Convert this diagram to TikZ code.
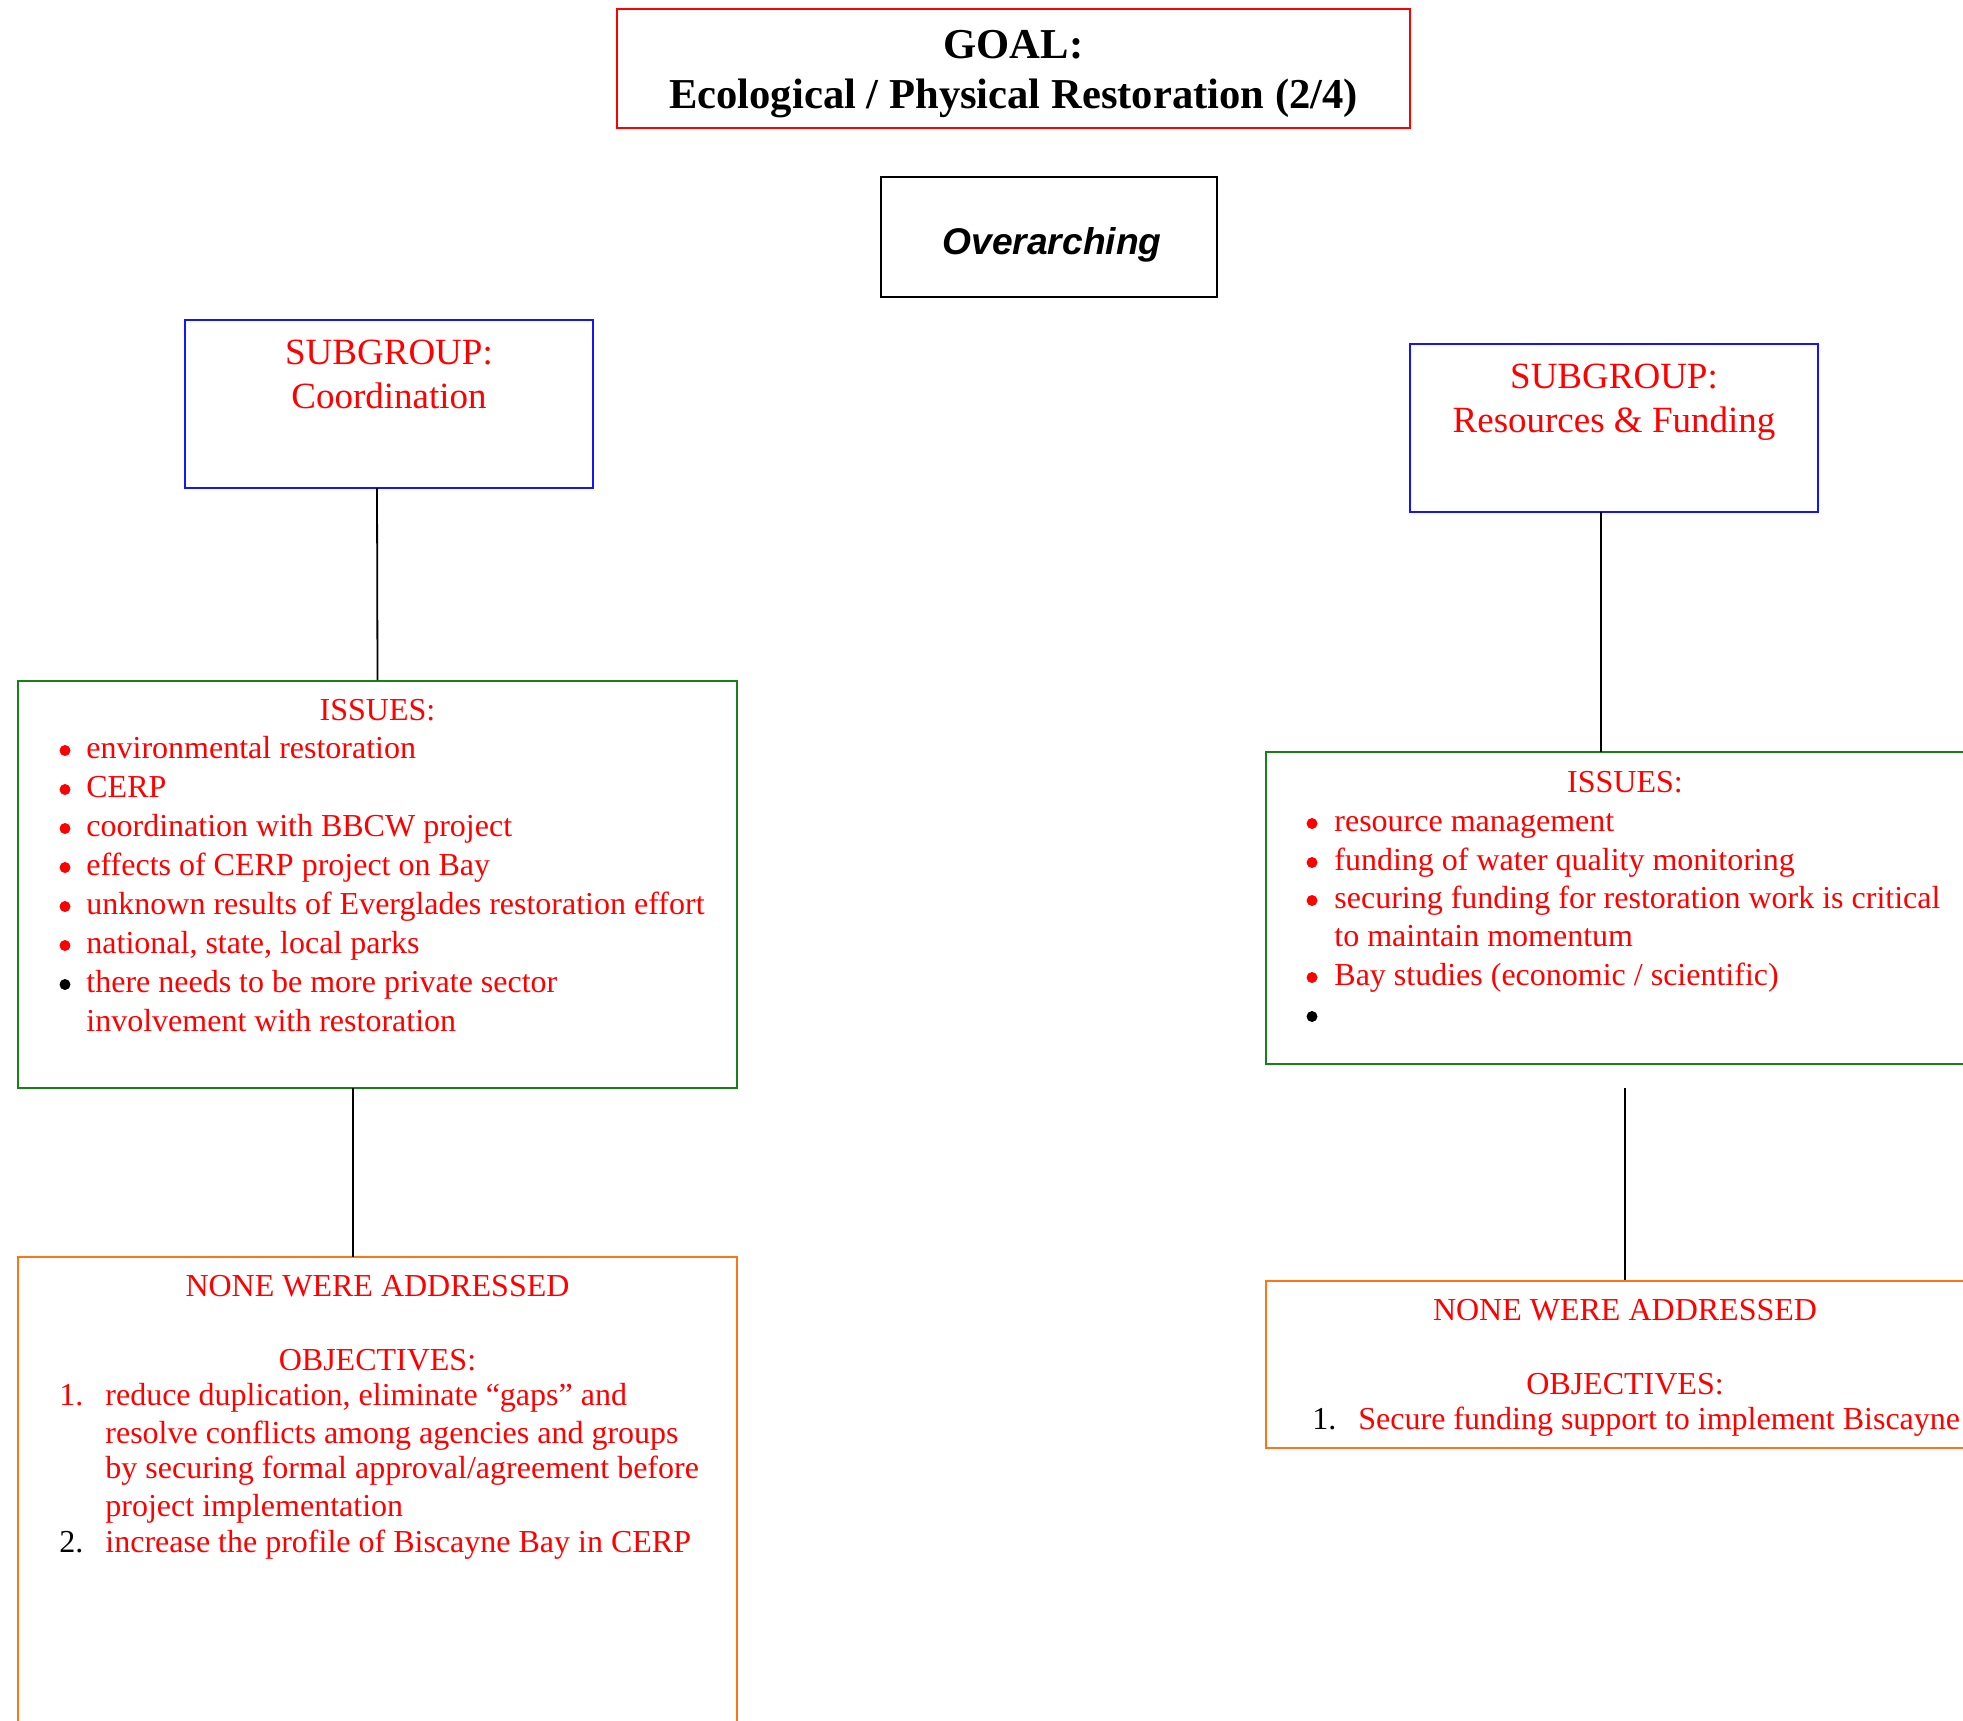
\documentclass[tikz,border=0pt]{standalone}
\usepackage{fontspec}
\setmainfont{Liberation Serif}
\newfontfamily\arialfont{Liberation Sans}
\definecolor{ttred}{RGB}{255,0,0}
\definecolor{ttblue}{RGB}{20,20,255}
\definecolor{ttgreen}{RGB}{20,130,20}
\definecolor{ttorange}{RGB}{255,115,25}
\tikzset{
  box/.style={draw, line width=1pt, inner sep=0pt},
  conn/.style={draw=black, line width=0.9pt},
  body/.style={inner sep=0pt, text=ttred, font=\fontsize{16}{19.5}\selectfont},
  bodyw/.style={body, anchor=base west},
  bodyc/.style={body, anchor=base},
  dot/.style={circle, fill=ttred, inner sep=0pt, minimum size=5.5pt},
  titletxt/.style={inner sep=0pt, anchor=base, font=\fontsize{21.3}{25}\selectfont\bfseries},
  subtxt/.style={inner sep=0pt, anchor=base, text=ttred, font=\fontsize{18.5}{22}\selectfont},
}
\begin{document}
\begin{tikzpicture}[x=0.5pt,y=-0.5pt]
\useasboundingbox (0,0) rectangle (1963,1720);
\clip (0,0) rectangle (1963,1720);

% ---- boxes ----
\node[box, draw=ttred, minimum width=396.5pt, minimum height=59.5pt] (goal) at (1013.5,68.5) {};
\node[box, draw=black, minimum width=168pt, minimum height=60pt] (over) at (1049,237) {};
\node[box, draw=ttblue, minimum width=204pt, minimum height=84pt] (sub1) at (389,404) {};
\node[box, draw=ttblue, minimum width=204pt, minimum height=84pt] (sub2) at (1614,428) {};
\node[box, draw=ttgreen, minimum width=359.5pt, minimum height=203.5pt] (iss1) at (377.5,884.5) {};
\node[box, draw=ttorange, minimum width=359.5pt, minimum height=241.5pt] (obj1) at (377.5,1498.5) {};
\node[box, draw=ttgreen, minimum width=359pt, minimum height=156pt] (iss2) at (1625,908) {};
\node[box, draw=ttorange, minimum width=359pt, minimum height=83.5pt] (obj2) at (1625,1364.5) {};

% ---- connectors ----
\coordinate (c1a) at (377,488);
\coordinate (c2a) at (353,1088);
\coordinate (c2b) at (353,1257);
\coordinate (c3a) at (1601,512);
\coordinate (c3b) at (1601,752);
\coordinate (c4a) at (1625,1088);
\draw[conn] (c1a) -- (iss1.north);
\draw[conn] (c2a) -- (c2b);
\draw[conn] (c3a) -- (c3b);
\draw[conn] (c4a) -- (obj2.north);

% ---- title ----
\node[titletxt] (g1) at (1013.5,58) {GOAL:};
\node[titletxt] (g2) at (1013.5,108) {Ecological / Physical Restoration (2/4)};
\node[inner sep=0pt, anchor=base, font=\arialfont\bfseries\itshape\fontsize{18.6}{22}\selectfont] (ov) at (1052,254) {Overarching};

% ---- subgroups ----
\node[subtxt] (s1a) at (389,364) {SUBGROUP:};
\node[subtxt] (s1b) at (389,408) {Coordination};
\node[subtxt] (s2a) at (1614,388) {SUBGROUP:};
\node[subtxt] (s2b) at (1614,432) {Resources \& Funding};

% ---- left issues ----
\node[bodyc] (li0) at (377.5,720) {ISSUES:};
\node[dot] (lb1) at (65,750.5) {};  \node[bodyw] (li1) at (86,758) {environmental restoration};
\node[dot] (lb2) at (65,789.5) {};  \node[bodyw] (li2) at (86,797) {CERP};
\node[dot] (lb3) at (65,828.5) {};  \node[bodyw] (li3) at (86,836) {coordination with BBCW project};
\node[dot] (lb4) at (65,867.5) {};  \node[bodyw] (li4) at (86,875) {effects of CERP project on Bay};
\node[dot] (lb5) at (65,906.5) {};  \node[bodyw] (li5) at (86,914) {unknown results of Everglades restoration effort};
\node[dot] (lb6) at (65,945.5) {};  \node[bodyw] (li6) at (86,953) {national, state, local parks};
\node[dot, fill=black] (lb7) at (65,984.5) {};  \node[bodyw] (li7) at (86,992) {there needs to be more private sector};
\node[bodyw] (li8) at (86,1031) {involvement with restoration};

% ---- left objectives ----
\node[bodyc] (lo0) at (377.5,1296) {NONE WERE ADDRESSED};
\node[bodyc] (lo1) at (377.5,1370) {OBJECTIVES:};
\node[bodyw] (ln1) at (59,1405) {1.};
\node[bodyw] (lo2) at (105,1405) {reduce duplication, eliminate “gaps” and};
\node[bodyw] (lo3) at (105,1443) {resolve conflicts among agencies and groups};
\node[bodyw] (lo4) at (105,1478) {by securing formal approval/agreement before};
\node[bodyw] (lo5) at (105,1516) {project implementation};
\node[bodyw, text=black] (ln2) at (59,1552) {2.};
\node[bodyw] (lo6) at (105,1552) {increase the profile of Biscayne Bay in CERP};

% ---- right issues ----
\node[bodyc] (ri0) at (1625,792) {ISSUES:};
\node[dot] (rb1) at (1312,823.5) {};  \node[bodyw] (ri1) at (1334,831) {resource management};
\node[dot] (rb2) at (1312,862.5) {};  \node[bodyw] (ri2) at (1334,870) {funding of water quality monitoring};
\node[dot] (rb3) at (1312,900.5) {};  \node[bodyw] (ri3) at (1334,908) {securing funding for restoration work is critical};
\node[bodyw] (ri4) at (1334,946) {to maintain momentum};
\node[dot] (rb5) at (1312,977.5) {};  \node[bodyw] (ri5) at (1334,985) {Bay studies (economic / scientific)};
\node[dot, fill=black] (rb6) at (1312,1016.5) {};

% ---- right objectives ----
\node[bodyc] (ro0) at (1625,1320) {NONE WERE ADDRESSED};
\node[bodyc] (ro1) at (1625,1394) {OBJECTIVES:};
\node[bodyw, text=black] (rn1) at (1312,1429) {1.};
\node[bodyw] (ro2) at (1358,1429) {Secure funding support to implement Biscayne};
\end{tikzpicture}
\end{document}
